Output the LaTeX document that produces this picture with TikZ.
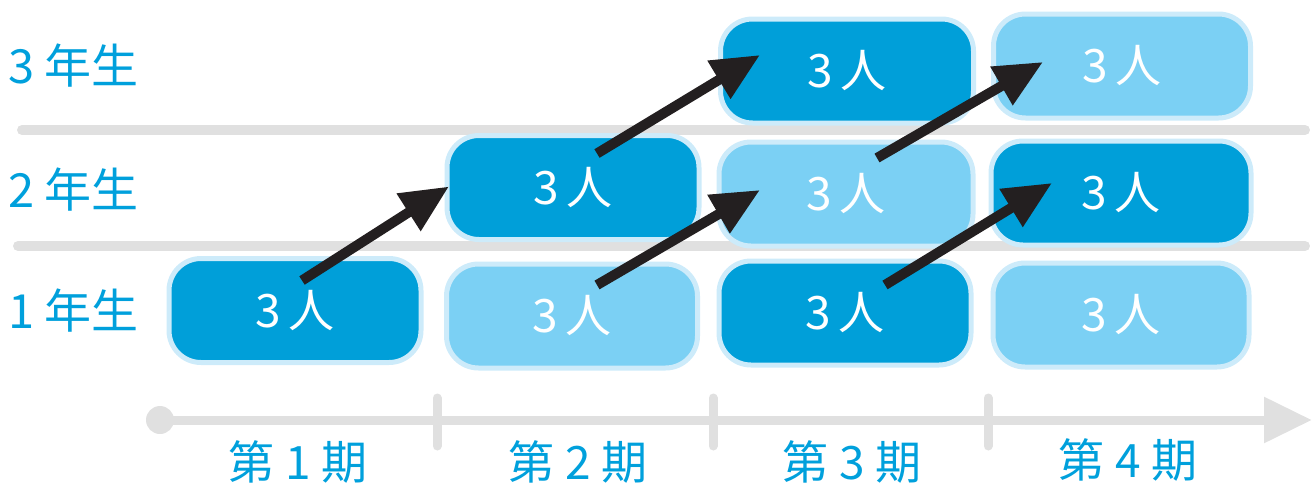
\documentclass[tikz,border=0pt]{standalone}
\usepackage{fontspec}
\setmainfont{Noto Sans CJK JP}
\usetikzlibrary{arrows.meta,calc}
\definecolor{darkb}{HTML}{009FD9}
\definecolor{lightb}{HTML}{7BD0F4}
\definecolor{rimb}{HTML}{CDEBFA}
\definecolor{grayl}{HTML}{E0E0E0}
\definecolor{labelb}{HTML}{00A0DC}
\definecolor{arrk}{HTML}{231F20}
\tikzset{
  box/.style={draw=rimb, line width=5pt, rounded corners=32pt, minimum width=#1, minimum height=104pt, inner sep=0pt,
    text=white, font=\fontsize{46}{48}\selectfont},
  darkbox/.style={box=#1, fill=darkb},
  lightbox/.style={box=#1, fill=lightb},
  rowlab/.style={text=labelb, font=\fontsize{47}{49}\selectfont, anchor=west, inner sep=0pt},
  perlab/.style={text=labelb, font=\fontsize{46}{48}\selectfont, inner sep=0pt},
  sep/.style={draw=grayl, line width=10pt, line cap=round},
  arr/.style={draw=arrk, line width=10pt, -{Triangle[length=48pt,width=42pt]}},
  tick/.style={draw=grayl, line width=9pt, line cap=round}
}
\begin{document}
\begin{tikzpicture}[x=1pt,y=-1pt]
\useasboundingbox (0,0) rectangle (1315,485);
% separators
\coordinate (s1a) at (22,130); \coordinate (s1b) at (1305,130);
\coordinate (s2a) at (18,246); \coordinate (s2b) at (1305,246);
\draw[sep] (s1a) -- (s1b);
\draw[sep] (s2a) -- (s2b);
% row labels
\node[rowlab] (r3) at (8,66) {3 年生};
\node[rowlab] (r2) at (8,190) {2 年生};
\node[rowlab] (r1) at (8,311) {1 年生};
% boxes
\node[darkbox=252pt]  (b11) at (295,310.5) {3\,人};
\node[lightbox=251pt] (b12) at (572,316) {3\,人};
\node[darkbox=252pt]  (b13) at (845,313) {3\,人};
\node[lightbox=256pt] (b14) at (1121,315) {3\,人};
\node[darkbox=252pt]  (b22) at (573,187.5) {3\,人};
\node[lightbox=254pt] (b23) at (846,194) {3\,人};
\node[darkbox=260pt]  (b24) at (1121,193) {3\,人};
\node[darkbox=253pt]  (b33) at (847,71) {3\,人};
\node[lightbox=257pt] (b34) at (1122,66) {3\,人};
% arrows
\draw[arr] ([shift={(7,-30)}]b11.center) -- ([shift={(-124,-1)}]b22.center);
\draw[arr] ([shift={(24,-34)}]b22.center) -- ([shift={(-87,-16)}]b33.center);
\draw[arr] ([shift={(25,-31)}]b12.center) -- ([shift={(-86,-4)}]b23.center);
\draw[arr] ([shift={(31,-36)}]b23.center) -- ([shift={(-79,-4)}]b34.center);
\draw[arr] ([shift={(40,-28)}]b13.center) -- ([shift={(-69,-10)}]b24.center);
% timeline
\coordinate (t0) at (160,420);
\coordinate (t1) at (1312,420);
\fill[grayl] (t0) circle (14pt);
\draw[draw=grayl, line width=9pt, -{Triangle[length=48pt,width=44pt]}] (t0) -- (t1);
\foreach \x [count=\i] in {437,713,988} {
  \coordinate (k\i a) at (\x,398); \coordinate (k\i b) at (\x,446);
  \draw[tick] (k\i a) -- (k\i b);
}
\node[perlab] (p1) at (298,462) {第 1 期};
\node[perlab] (p2) at (578,462) {第 2 期};
\node[perlab] (p3) at (852,462) {第 3 期};
\node[perlab] (p4) at (1128,460) {第 4 期};
\end{tikzpicture}
\end{document}
